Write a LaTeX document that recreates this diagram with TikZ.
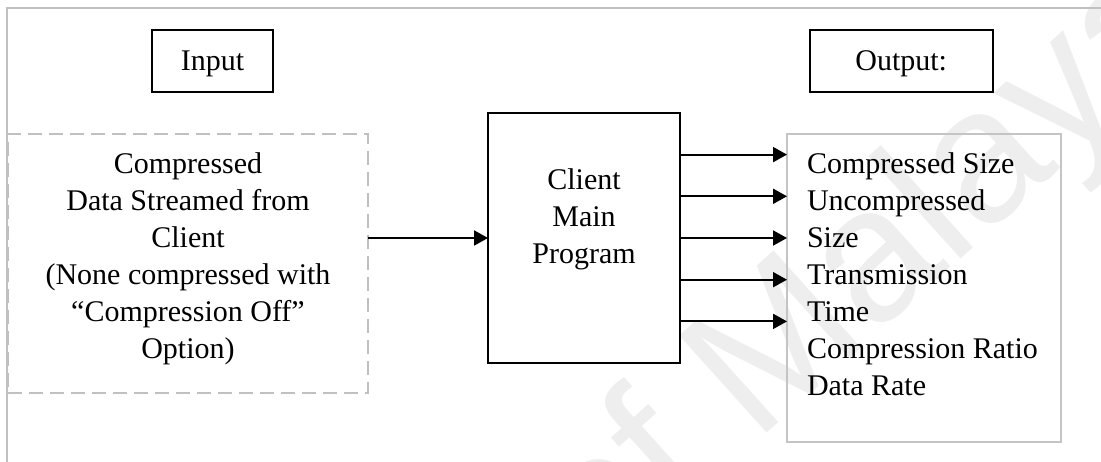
\documentclass[tikz,border=0pt]{standalone}
\usepackage{fontspec}
\setmainfont{Liberation Serif}
\newfontfamily\wmfont{Liberation Sans}
\usetikzlibrary{arrows.meta}

\definecolor{framegray}{HTML}{C0C0C0}
\definecolor{boxgray}{HTML}{C4C4C4}
\definecolor{wmgray}{HTML}{EEEEEE}

\tikzset{
  bodyfont/.style={font=\fontsize{30}{37}\selectfont},
  txt/.style={bodyfont, inner sep=0pt, outer sep=0pt},
  labelbox/.style={draw=black, line width=2pt, inner sep=0pt, outer sep=0pt,
    minimum height=62pt, bodyfont, text height=24pt, text depth=5pt},
  progbox/.style={draw=black, line width=2.2pt, inner sep=0pt, outer sep=0pt,
    minimum width=192pt, minimum height=250pt},
  srcbox/.style={draw=framegray, line width=1.6pt, dash pattern=on 14pt off 7pt,
    inner sep=0pt, outer sep=0pt, minimum width=360pt, minimum height=259pt},
  listbox/.style={draw=boxgray, line width=2pt, inner sep=0pt, outer sep=0pt,
    minimum width=274pt, minimum height=308pt},
  arr/.style={line width=2pt, -{Triangle[length=14pt,width=15pt]}},
}

\begin{document}
\begin{tikzpicture}[x=1pt, y=-1pt]
  \useasboundingbox (0,0) rectangle (1101,462);

  % faint watermark behind everything
  \begin{scope}
    \clip (0,0) rectangle (1101,462);
    \node[text=wmgray, font=\wmfont\fontsize{190}{190}\selectfont, rotate=42,
      inner sep=0pt, anchor=base west] (wm) at (598,585) {of Malaya};
  \end{scope}

  % page frame
  \draw[framegray, line width=1.5pt] (7,462) -- (7,8) -- (1101,8);

  % headings
  \node[labelbox, minimum width=121pt] (inlabel) at (212.5,61) {Input};
  \node[labelbox, minimum width=183pt] (outlabel) at (901.2,61) {Output:};

  % source of the stream
  \node[srcbox] (src) at (188,263.5) {};
  \node[txt, anchor=north, align=center] (srctext) at (188,152.2)
    {Compressed\\Data Streamed from\\Client\\(None compressed with\\%
     ``Compression Off''\\Option)};

  % main program
  \node[progbox] (prog) at (584,238) {};
  \node[txt, anchor=north, align=center] (progtext) at (584,168.5)
    {Client\\Main\\Program};

  % output list
  \node[listbox] (outbox) at (924,288) {};
  \node[txt, anchor=north west, align=left] (outtext) at (807,152.2)
    {Compressed Size\\Uncompressed\\Size\\Transmission\\Time\\%
     Compression Ratio\\Data Rate};

  % connectors
  \draw[arr] (prog.west -| src.east) -- (prog.west);
  \foreach \k in {-2,...,2}
    \draw[arr] ([yshift=\k*41.7pt]prog.east) -- ([yshift=\k*41.7pt]prog.east -| outbox.west);
\end{tikzpicture}
\end{document}
